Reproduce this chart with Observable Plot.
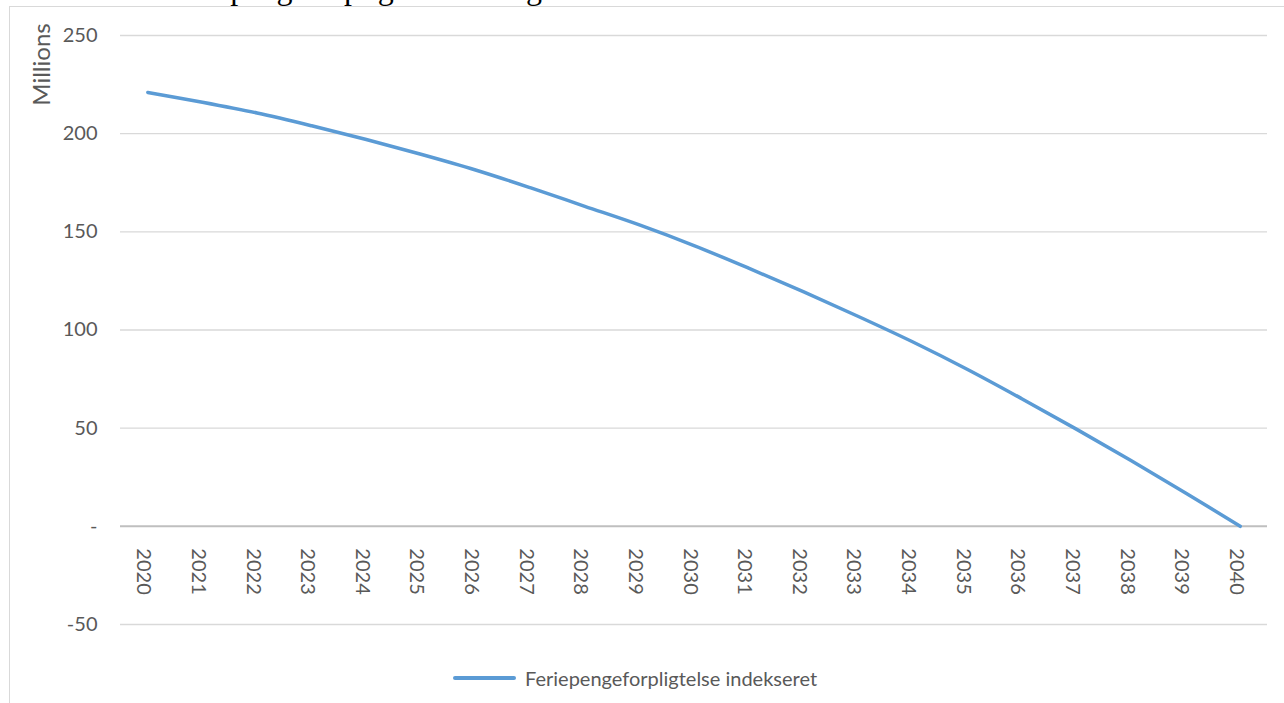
<!DOCTYPE html>
<html>
<head>
<meta charset="utf-8">
<script src="https://cdn.jsdelivr.net/npm/d3@7"></script>
<script src="https://cdn.jsdelivr.net/npm/@observablehq/plot@0.6"></script>
<style>
  html, body { margin: 0; padding: 0; background: #fff; }
  #wrap { position: relative; width: 1284px; height: 703px; overflow: hidden; font-family: Lato, "Open Sans", sans-serif; }
  #title { position: absolute; left: 40px; top: -28px; font-family: "Liberation Serif", "Times New Roman", serif; font-size: 32px; line-height: 32px; color: #000; white-space: nowrap; }
  #frame { position: absolute; left: 9px; top: 6px; width: 1400px; height: 800px; border: 1.5px solid #d9d9d9; box-sizing: border-box; pointer-events: none; z-index: 2; }
  #chart { position: absolute; left: 0; top: 0; z-index: 1; }
  #legend { position: absolute; left: 453px; top: 665px; height: 26px; display: flex; align-items: center; z-index: 3; color: #595959; font-size: 20px; }
  #legend .sw { width: 63px; height: 4px; border-radius: 2px; background: #5b9bd5; margin-right: 9px; }
</style>
</head>
<body>
<div id="wrap">
  <div id="title">Model 3: Feriepengeforpligtelse afdrag over 20 år</div>
  <div id="chart"></div>
  <div id="frame"></div>
  <div id="legend"><div class="sw"></div><span id="legendLabel"></span></div>
</div>
<script>
const years = [2020, 2021, 2022, 2023, 2024, 2025, 2026, 2027, 2028, 2029, 2030, 2031, 2032, 2033, 2034, 2035, 2036, 2037, 2038, 2039, 2040];
const values = [221, 216, 210.5, 204, 197, 189.5, 181.5, 172.5, 163, 153.5, 143, 131.5, 119.5, 107, 94, 80, 65, 49.5, 33.5, 17, 0];
const yTicks = [-50, 0, 50, 100, 150, 200, 250];
const seriesName = "Feriepengeforpligtelse indekseret";
const yLabel = "Millions";

const data = years.map((y, i) => ({year: y, value: values[i]}));
document.getElementById("legendLabel").textContent = seriesName;

const chart = Plot.plot({
  width: 1284,
  height: 703,
  marginLeft: 120,
  marginRight: 17,
  marginTop: 35,
  marginBottom: 79,
  style: {fontFamily: "Lato, 'Open Sans', sans-serif", fontSize: "20px", color: "#595959", background: "transparent"},
  x: {type: "point", domain: years, padding: 0.5, round: false, axis: null},
  y: {domain: [-50, 250], axis: null},
  marks: [
    Plot.ruleY(yTicks.filter(d => d !== 0), {stroke: "#d9d9d9", strokeWidth: 1.3}),
    Plot.ruleY([0], {stroke: "#bfbfbf", strokeWidth: 2}),
    Plot.axisY({ticks: yTicks, tickSize: 0, tickPadding: 23, label: null, tickFormat: d => d === 0 ? "-" : String(d), fontSize: 20, fill: "#595959"}),
    Plot.text(years, {x: d => d, y: () => 0, text: d => String(d), rotate: 90, textAnchor: "start", dy: 22, dx: -4, fill: "#595959", fontSize: 20}),
    Plot.text([yLabel], {frameAnchor: "top-left", text: d => d, rotate: -90, textAnchor: "middle", dx: -88, dy: 29, fill: "#595959", fontSize: 24}),
    Plot.line(data, {x: "year", y: "value", stroke: "#5b9bd5", strokeWidth: 3.5, curve: "catmull-rom", strokeLinecap: "round"})
  ]
});
document.getElementById("chart").appendChild(chart);
</script>
</body>
</html>
